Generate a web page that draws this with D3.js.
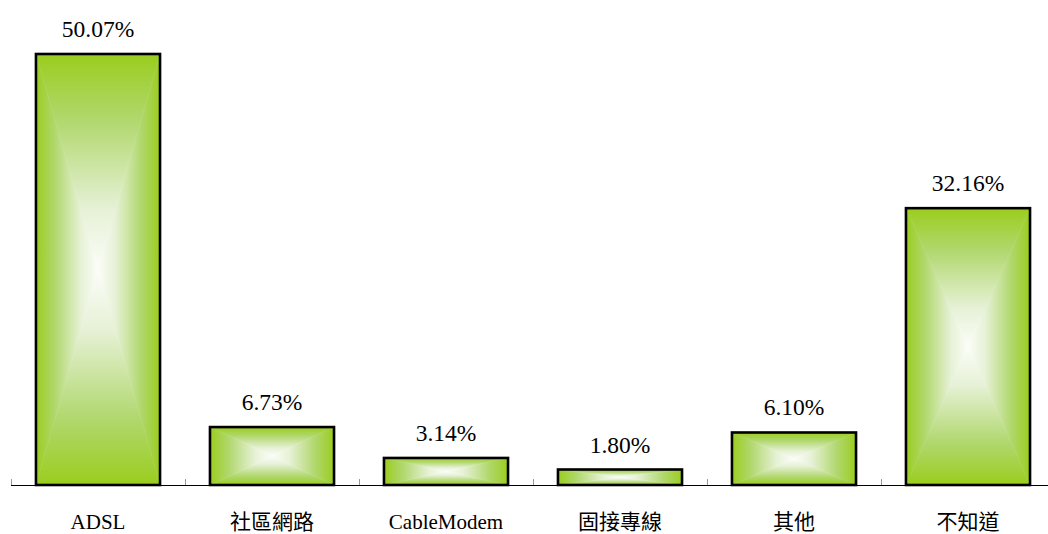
<!DOCTYPE html>
<html><head><meta charset="utf-8">
<script src="https://cdn.jsdelivr.net/npm/d3@7"></script>
<style>body{margin:0;background:#fff;}svg{display:block;}
text{font-family:"Liberation Serif","Times New Roman","Noto Sans CJK TC",serif;}</style>
</head><body>
<svg id="chart" width="1048" height="534"></svg>
<script>
const categories = ["ADSL", "社區網路", "CableModem", "固接專線", "其他", "不知道"];
const values = [50.07, 6.73, 3.14, 1.80, 6.10, 32.16];
const valueLabels = ["50.07%", "6.73%", "3.14%", "1.80%", "6.10%", "32.16%"];

const svg = d3.select("#chart");
const baseY = 485;
const x = d3.scaleBand().domain(categories).range([11, 1055]).paddingInner(0.287).paddingOuter(0.1435);
const y = d3.scaleLinear().domain([0, 50.07]).range([baseY, 54]);
const green = "#9acd1e";

const defs = svg.append("defs");

// axis
const axis = d3.axisBottom(x).tickSize(0).tickFormat("");
const axG = svg.append("g").attr("transform", `translate(0,${baseY})`).call(axis);
axG.select(".domain").remove();
svg.append("line").attr("x1", 11).attr("x2", 1048).attr("y1", baseY + 0.5).attr("y2", baseY + 0.5)
  .attr("stroke", "#000").attr("stroke-width", 1.2);
const tickPos = categories.map(c => x(c) - x.step() * 0.287 / 2);
svg.selectAll(".tk").data(tickPos).enter().append("line")
  .attr("x1", d => Math.round(d) + 0.5).attr("x2", d => Math.round(d) + 0.5)
  .attr("y1", baseY - 6).attr("y2", baseY)
  .attr("stroke", "#999").attr("stroke-width", 1);

// bars
const bars = svg.selectAll(".bar").data(values).enter().append("g").attr("class", "bar");
bars.each(function(v, i) {
  const g = d3.select(this);
  const x0 = x(categories[i]), w = x.bandwidth();
  const y0 = y(v), y1 = y(0);
  const h = y1 - y0;
  const cx = x0 + w / 2, cy = y0 + h / 2;
  const polys = [
    {pts: [[x0, y0], [x0 + w, y0], [cx, cy]], g: [cx, y0, cx, cy]},
    {pts: [[x0, y1], [x0 + w, y1], [cx, cy]], g: [cx, y1, cx, cy]},
    {pts: [[x0, y0], [x0, y1], [cx, cy]], g: [x0, cy, cx, cy]},
    {pts: [[x0 + w, y0], [x0 + w, y1], [cx, cy]], g: [x0 + w, cy, cx, cy]}
  ];
  polys.forEach((p, k) => {
    const gid = "gr" + i + "_" + k;
    const lg = defs.append("linearGradient").attr("id", gid).attr("gradientUnits", "userSpaceOnUse")
      .attr("x1", p.g[0]).attr("y1", p.g[1]).attr("x2", p.g[2]).attr("y2", p.g[3]);
    lg.append("stop").attr("offset", "0%").attr("stop-color", green);
    lg.append("stop").attr("offset", "30%").attr("stop-color", "#b0d76c");
    lg.append("stop").attr("offset", "72%").attr("stop-color", "#e6f1d6");
    lg.append("stop").attr("offset", "100%").attr("stop-color", "#fbfdf8");
    g.append("polygon").attr("points", p.pts.map(q => q.join(",")).join(" "))
      .attr("fill", `url(#${gid})`).attr("stroke", `url(#${gid})`).attr("stroke-width", 0.5);
  });
  g.append("rect").attr("x", x0).attr("y", y0).attr("width", w).attr("height", h)
    .attr("fill", "none").attr("stroke", "#000").attr("stroke-width", 2.6);
});

// value labels
svg.selectAll(".vl").data(values).enter().append("text")
  .attr("x", (d, i) => x(categories[i]) + x.bandwidth() / 2)
  .attr("y", d => y(d) - 17)
  .attr("text-anchor", "middle").attr("font-size", 23.5)
  .attr("fill", "#000").text((d, i) => valueLabels[i]);

// category labels
svg.selectAll(".cl").data(categories).enter().append("text")
  .attr("x", d => x(d) + x.bandwidth() / 2).attr("y", 529)
  .attr("text-anchor", "middle").attr("font-size", 21)
  .attr("fill", "#000").text(d => d);
</script>
</body></html>
